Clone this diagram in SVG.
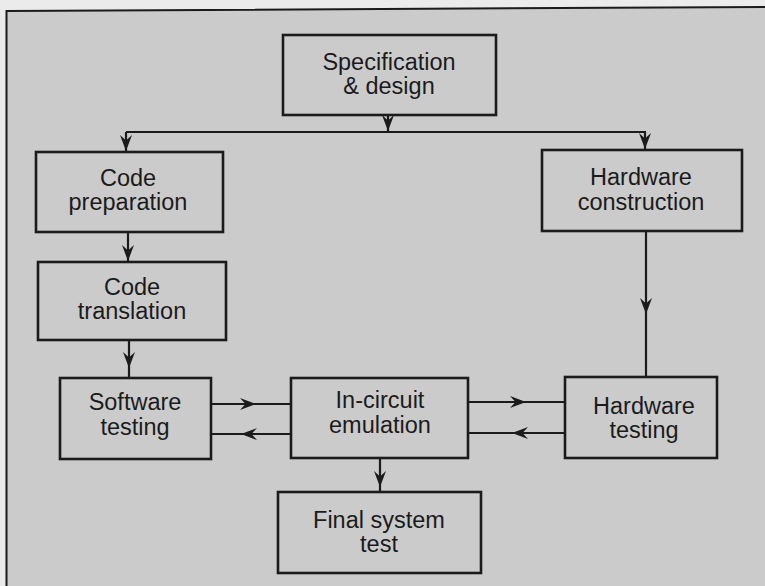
<svg xmlns="http://www.w3.org/2000/svg" width="765" height="586" viewBox="0 0 765 586">
  <style>
    .box { fill: none; stroke: #1b1b1b; stroke-width: 2.6; }
    .lbl { font-family: "Liberation Sans", Arial, Helvetica, sans-serif; font-size: 23.5px; fill: #1b1b1b; text-anchor: middle; }
    .wire { fill: none; stroke: #1b1b1b; stroke-width: 2.2; }
    .end { marker-end: url(#arrow); }
    .mid { marker-mid: url(#arrow); }
  </style>
  <defs>
    <marker id="arrow" viewBox="-17 -7 18 14" refX="0" refY="0" markerWidth="18" markerHeight="14" orient="auto" markerUnits="userSpaceOnUse">
      <path d="M0,0 L-16,-6 L-10.5,0 L-16,6 Z" fill="#1b1b1b"/>
    </marker>
  </defs>

  <!-- page and panel -->
  <rect x="0" y="0" width="765" height="586" fill="#ebebeb"/>
  <polygon points="6.5,11 765,7 765,586 6.5,586" fill="#cbcbcb"/>
  <polyline points="6.5,586 6.5,11 765,7" fill="none" stroke="#1b1b1b" stroke-width="2"/>

  <!-- connectors -->
  <g id="connectors">
    <path class="wire end" d="M388,115 L388,131"/>
    <path class="wire" d="M126,132 L646,132"/>
    <path class="wire end" d="M126,132 L126,151"/>
    <path class="wire end" d="M645,132 L645,149"/>
    <path class="wire end" d="M128,232 L128,261"/>
    <path class="wire mid" d="M129,340 L129,368 L129,378"/>
    <path class="wire mid" d="M646,231 L646,314 L646,377"/>
    <path class="wire mid" d="M211,404 L256,404 L291,404"/>
    <path class="wire mid" d="M291,434 L241,434 L211,434"/>
    <path class="wire mid" d="M468,402 L526,402 L565,402"/>
    <path class="wire mid" d="M565,433 L512,433 L468,433"/>
    <path class="wire mid" d="M380,458 L380,487 L380,492"/>
  </g>

  <g id="spec">
    <rect class="box" x="283" y="35" width="213" height="80"/>
    <text class="lbl" x="389" y="70">Specification</text>
    <text class="lbl" x="389" y="94">&amp; design</text>
  </g>

  <g id="code-prep">
    <rect class="box" x="36" y="152" width="187" height="80"/>
    <text class="lbl" x="128" y="186">Code</text>
    <text class="lbl" x="128" y="210">preparation</text>
  </g>

  <g id="hw-construction">
    <rect class="box" x="542" y="150" width="200" height="81"/>
    <text class="lbl" x="641" y="185">Hardware</text>
    <text class="lbl" x="641" y="210">construction</text>
  </g>

  <g id="code-translation">
    <rect class="box" x="38" y="262" width="188" height="78"/>
    <text class="lbl" x="132" y="295">Code</text>
    <text class="lbl" x="132" y="319">translation</text>
  </g>

  <g id="sw-testing">
    <rect class="box" x="60" y="378" width="151" height="81"/>
    <text class="lbl" x="135" y="410">Software</text>
    <text class="lbl" x="135" y="435">testing</text>
  </g>

  <g id="ice">
    <rect class="box" x="291" y="378" width="177" height="80"/>
    <text class="lbl" x="380" y="408">In-circuit</text>
    <text class="lbl" x="380" y="433">emulation</text>
  </g>

  <g id="hw-testing">
    <rect class="box" x="565" y="377" width="152" height="81"/>
    <text class="lbl" x="644" y="414">Hardware</text>
    <text class="lbl" x="644" y="438">testing</text>
  </g>

  <g id="final-test">
    <rect class="box" x="278" y="492" width="203" height="81"/>
    <text class="lbl" x="379" y="528">Final system</text>
    <text class="lbl" x="379" y="552">test</text>
  </g>
</svg>
